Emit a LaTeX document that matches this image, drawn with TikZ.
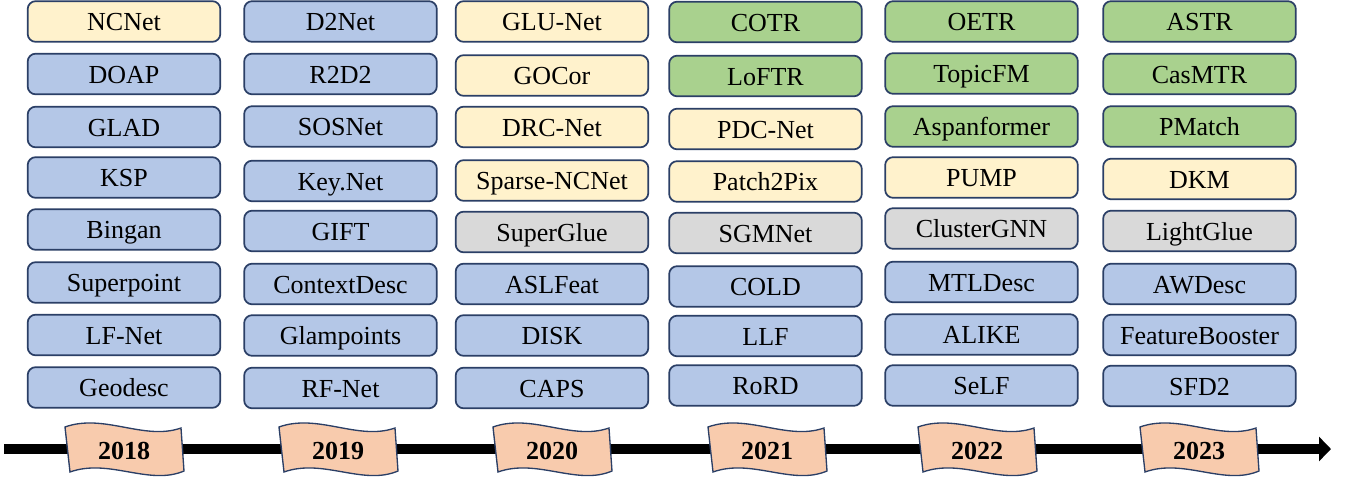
\documentclass[tikz,border=0pt]{standalone}
\usepackage{fontspec}
\setmainfont{Liberation Serif}
\usetikzlibrary{arrows.meta}

\definecolor{edgeblue}{HTML}{2B3F66}
\definecolor{fillblue}{HTML}{B4C7E7}
\definecolor{fillyellow}{HTML}{FFF2CC}
\definecolor{fillgreen}{HTML}{A9D18E}
\definecolor{fillgray}{HTML}{D9D9D9}
\definecolor{fillpeach}{HTML}{F8CBAD}

% one method box: name, centre x, centre y, fill style, label
\newcommand{\methodbox}[5]{\node[method,#4] (#1) at (#2,#3) {#5};}
% one year banner (wavy flag) centred at x on the time line
\newcommand{\yearflag}[3]{%
  \path[flag] (#2-59,427) .. controls (#2-20,413) and (#2+20,441) .. (#2+57,428)
    -- (#2+60,471) .. controls (#2+25,486) and (#2-15,458) .. (#2-54,472) -- cycle;
  \node[yeartext] (#1) at (#2,451) {#3};}

\begin{document}
\begin{tikzpicture}[x=0.75pt,y=-0.75pt,
  method/.style={draw=edgeblue,line width=1.3pt,rounded corners=6pt,
    minimum width=144.5pt,minimum height=30.5pt,inner sep=0pt,
    text height=14.2pt,text depth=0pt,
    font=\fontsize{19.5}{23}\selectfont},
  bl/.style={fill=fillblue},
  yl/.style={fill=fillyellow},
  gr/.style={fill=fillgreen},
  gy/.style={fill=fillgray},
  flag/.style={draw=edgeblue,line width=1pt,fill=fillpeach},
  yeartext/.style={font=\fontsize{19.5}{23}\selectfont\bfseries,inner sep=0pt},
  timeline/.style={line width=7.5pt,-{Triangle[length=9pt 0 0,width=18pt 0 0]}}]
\useasboundingbox (0,0) rectangle (1347,479);

% time axis
\coordinate (tstart) at (4,449);
\coordinate (tend) at (1331,449);
\draw[timeline] (tstart) -- (tend);

% 2018
\methodbox{ncnet}{124}{21.5}{yl}{NCNet}
\methodbox{doap}{124}{74}{bl}{DOAP}
\methodbox{glad}{124}{127}{bl}{GLAD}
\methodbox{ksp}{124}{177.5}{bl}{KSP}
\methodbox{bingan}{124}{229.5}{bl}{Bingan}
\methodbox{superpoint}{124}{282.5}{bl}{Superpoint}
\methodbox{lfnet}{124}{335}{bl}{LF-Net}
\methodbox{geodesc}{124}{387.5}{bl}{Geodesc}

% 2019
\methodbox{dtwonet}{340.5}{21.5}{bl}{D2Net}
\methodbox{rtwodtwo}{340.5}{74}{bl}{R2D2}
\methodbox{sosnet}{340.5}{126.5}{bl}{SOSNet}
\methodbox{keynet}{340.5}{181}{bl}{Key.Net}
\methodbox{gift}{340.5}{231}{bl}{GIFT}
\methodbox{contextdesc}{340.5}{284}{bl}{ContextDesc}
\methodbox{glampoints}{340.5}{335.5}{bl}{Glampoints}
\methodbox{rfnet}{340.5}{388}{bl}{RF-Net}

% 2020
\methodbox{glunet}{552}{21.5}{yl}{GLU-Net}
\methodbox{gocor}{552}{75.5}{yl}{GOCor}
\methodbox{drcnet}{552}{127}{yl}{DRC-Net}
\methodbox{sparsencnet}{552}{180.5}{yl}{Sparse-NCNet}
\methodbox{superglue}{552}{232}{gy}{SuperGlue}
\methodbox{aslfeat}{552}{284}{bl}{ASLFeat}
\methodbox{disk}{552}{335.5}{bl}{DISK}
\methodbox{caps}{552}{388}{bl}{CAPS}

% 2021
\methodbox{cotr}{765.5}{22}{gr}{COTR}
\methodbox{loftr}{765.5}{76}{gr}{LoFTR}
\methodbox{pdcnet}{765.5}{129}{yl}{PDC-Net}
\methodbox{patchtwopix}{765.5}{181.5}{yl}{Patch2Pix}
\methodbox{sgmnet}{765.5}{233}{gy}{SGMNet}
\methodbox{cold}{765.5}{286.5}{bl}{COLD}
\methodbox{llf}{765.5}{336}{bl}{LLF}
\methodbox{rord}{765.5}{385.5}{bl}{RoRD}

% 2022
\methodbox{oetr}{981.5}{21.5}{gr}{OETR}
\methodbox{topicfm}{981.5}{73.5}{gr}{TopicFM}
\methodbox{aspanformer}{981.5}{126.5}{gr}{Aspanformer}
\methodbox{pump}{981.5}{177.5}{yl}{PUMP}
\methodbox{clustergnn}{981.5}{228.5}{gy}{ClusterGNN}
\methodbox{mtldesc}{981.5}{282}{bl}{MTLDesc}
\methodbox{alike}{981.5}{334.5}{bl}{ALIKE}
\methodbox{self}{981.5}{385.5}{bl}{SeLF}

% 2023
\methodbox{astr}{1199.5}{21.5}{gr}{ASTR}
\methodbox{casmtr}{1199.5}{74}{gr}{CasMTR}
\methodbox{pmatch}{1199.5}{126.5}{gr}{PMatch}
\methodbox{dkm}{1199.5}{179}{yl}{DKM}
\methodbox{lightglue}{1199.5}{231}{gy}{LightGlue}
\methodbox{awdesc}{1199.5}{284}{bl}{AWDesc}
\methodbox{featurebooster}{1199.5}{335}{bl}{FeatureBooster}
\methodbox{sfdtwo}{1199.5}{386}{bl}{SFD2}

% year banners on the axis
\yearflag{yeighteen}{124}{2018}
\yearflag{ynineteen}{338}{2019}
\yearflag{ytwenty}{552}{2020}
\yearflag{ytwentyone}{767}{2021}
\yearflag{ytwentytwo}{977}{2022}
\yearflag{ytwentythree}{1199}{2023}
\end{tikzpicture}
\end{document}
